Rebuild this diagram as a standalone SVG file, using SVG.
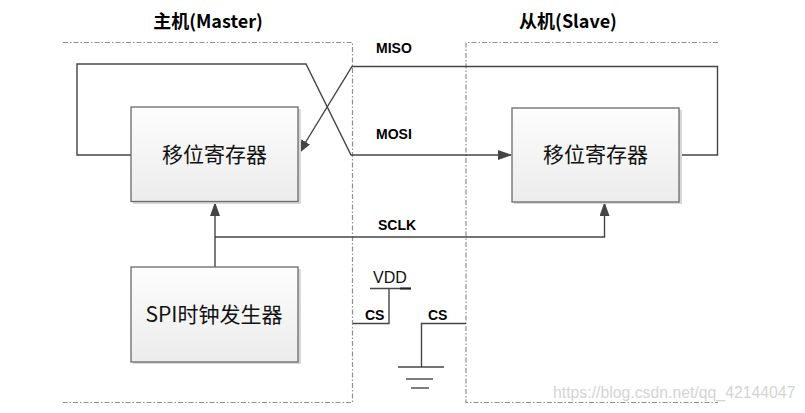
<svg xmlns="http://www.w3.org/2000/svg" width="805" height="413" viewBox="0 0 805 413">
<style>
.bnd{fill:none;stroke:#8f8f8f;stroke-width:1.2;stroke-dasharray:5 2 1.5 2}
.wire{fill:none;stroke:#454545;stroke-width:1.4}
.box{fill:url(#g);stroke:#6a6a6a;stroke-width:1.3}
.shd{fill:#d8d8d8}
.lbl{font-family:"Liberation Sans","Open Sans",sans-serif;font-weight:bold;font-size:14px;fill:#000}
.ttl{font-family:"Noto Sans CJK SC","Liberation Sans",sans-serif;font-weight:bold;font-size:18px;fill:#000}
.cn{font-family:"Noto Sans CJK SC",sans-serif;font-size:21px;fill:#111}
.vdd{font-family:"Liberation Sans",sans-serif;font-size:16px;fill:#111}
.wm{font-family:"Liberation Sans",sans-serif;font-size:15.8px;fill:#d4d4d4}
</style>
<defs>
<linearGradient id="g" x1="0" y1="0" x2="0" y2="1">
<stop offset="0" stop-color="#fdfdfd"/>
<stop offset="1" stop-color="#ececec"/>
</linearGradient>
<marker id="ah" markerUnits="userSpaceOnUse" markerWidth="14" markerHeight="10" refX="13" refY="5" orient="auto">
<path d="M0,0 L14,5 L0,10 Z" fill="#454545"/>
</marker>
</defs>
<rect width="805" height="413" fill="#fff"/>

<g id="boundaries">
<path class="bnd" d="M63,42.5 H352.5 V402.5 H63"/>
<path class="bnd" d="M718,42.5 H466 V402.5 H718"/>
</g>

<g id="titles">
<text class="ttl" x="208" y="28" text-anchor="middle">主机(Master)</text>
<text class="ttl" x="568" y="28" text-anchor="middle">从机(Slave)</text>
</g>

<g id="connectors">
<path class="wire" d="M131,155 H77 V64 H306 L351,155 H511" marker-end="url(#ah)"/>
<path class="wire" d="M679,155 H717.5 V66.5 H352 L299,153" marker-end="url(#ah)"/>
<path class="wire" d="M215,267 V203" marker-end="url(#ah)"/>
<path class="wire" d="M215,237 H604.5 V203" marker-end="url(#ah)"/>
<path class="wire" d="M353,323.5 H389 V288.5"/>
<path class="wire" d="M370,288.5 H411"/>
<path d="M400,288.5 H411" stroke="#222" stroke-width="2" fill="none"/>
<path class="wire" d="M466,323.5 H421.5 V367"/>
<path class="wire" d="M398,367 H444"/>
<path class="wire" d="M406,379 H433"/>
<path class="wire" d="M411,388 H429"/>
</g>

<g id="labels">
<text class="lbl" x="376" y="53">MISO</text>
<text class="lbl" x="376" y="139">MOSI</text>
<text class="lbl" x="378" y="230">SCLK</text>
<text class="vdd" x="373" y="283">VDD</text>
<text class="lbl" x="365" y="320">CS</text>
<text class="lbl" x="428" y="320">CS</text>
</g>

<g id="master-shift-register">
<rect class="shd" x="133" y="109" width="168" height="95"/>
<rect class="box" x="131" y="107" width="167" height="94.5"/>
<text class="cn" x="214.5" y="161.5" text-anchor="middle">移位寄存器</text>
</g>

<g id="slave-shift-register">
<rect class="shd" x="514" y="110" width="168" height="94"/>
<rect class="box" x="512" y="108" width="167" height="94"/>
<text class="cn" x="595.5" y="162" text-anchor="middle">移位寄存器</text>
</g>

<g id="spi-clock-generator">
<rect class="shd" x="133" y="269" width="168" height="95"/>
<rect class="box" x="131" y="267" width="167" height="95"/>
<text class="cn" x="214" y="322" text-anchor="middle">SPI时钟发生器</text>
</g>

<text class="wm" x="553" y="398">https://blog.csdn.net/qq_42144047</text>
</svg>
